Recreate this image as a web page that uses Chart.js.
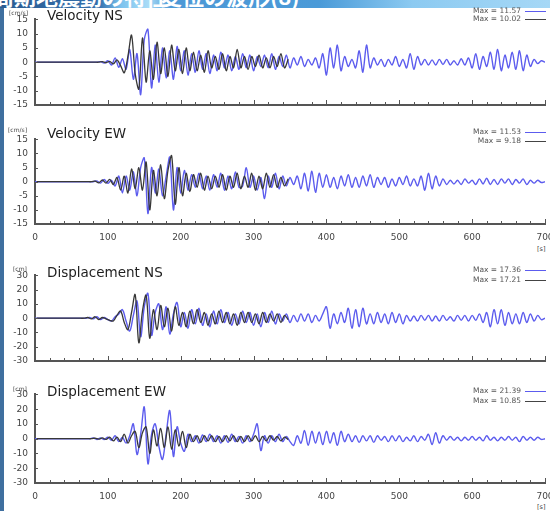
<!DOCTYPE html>
<html>
<head>
<meta charset="utf-8">
<script src="https://cdn.jsdelivr.net/npm/chart.js@4"></script>
<style>
  html, body { margin:0; padding:0; background:#fff; }
  body { width:550px; height:511px; position:relative; overflow:hidden; font-family:"DejaVu Sans", sans-serif; }
  .hdr { position:absolute; left:0; top:0; width:550px; height:8px; overflow:hidden;
         background:linear-gradient(to right, #2b5c92 0%, #3470ad 18%, #7cc3ee 22%, #a9dcf7 27%, #4d98d6 31%, #4a9ad8 58%, #8ccaf1 75%, #a6d8f6 100%); }
  .hdr span { position:absolute; top:-21px; white-space:nowrap; color:#fff; font:bold 22px "Noto Sans CJK JP", sans-serif; }
  .lstrip { position:absolute; left:0; top:8px; width:4px; height:503px; background:#3f6f9f; }
  canvas { position:absolute; left:0; }
  .title { position:absolute; left:47px; font:13.5px "DejaVu Sans", sans-serif; color:#1e1e1e; white-space:nowrap; }
  .unit { position:absolute; font:6px "DejaVu Sans", sans-serif; color:#444; white-space:nowrap; }
  .leg { position:absolute; right:29px; font:7.5px "DejaVu Sans", sans-serif; color:#555; white-space:nowrap; text-align:right; }
  .legline { position:absolute; left:525px; width:21px; height:0; border-top:1px solid; }
</style>
</head>
<body>
<div class="hdr"><span style="left:-30px">長周期地震動の特性</span><span style="left:160px">変位の波形(8)</span></div>
<div class="lstrip"></div>

<canvas id="c1" width="570" height="118" style="top:7px;width:570px;height:118px"></canvas>
<canvas id="c2" width="570" height="117" style="top:127px;width:570px;height:117px"></canvas>
<canvas id="c3" width="570" height="118" style="top:263px;width:570px;height:118px"></canvas>
<canvas id="c4" width="570" height="121" style="top:382px;width:570px;height:121px"></canvas>

<div class="title" style="top:7px">Velocity NS</div>
<div class="title" style="top:125px">Velocity EW</div>
<div class="title" style="top:264px">Displacement NS</div>
<div class="title" style="top:383px">Displacement EW</div>

<div class="unit" style="left:9px;top:9px">[cm/s]</div>
<div class="unit" style="left:8px;top:126px">[cm/s]</div>
<div class="unit" style="left:13px;top:265px">[cm]</div>
<div class="unit" style="left:13px;top:385px">[cm]</div>
<div class="unit" style="left:537px;top:245px;font-size:6.5px">[s]</div>
<div class="unit" style="left:537px;top:503px;font-size:6.5px">[s]</div>

<div class="leg" style="top:6px">Max = 11.57</div><div class="legline" style="top:11px;border-color:#5c5cee"></div>
<div class="leg" style="top:14px">Max = 10.02</div><div class="legline" style="top:19px;border-color:#444"></div>
<div class="leg" style="top:127px">Max = 11.53</div><div class="legline" style="top:132px;border-color:#5c5cee"></div>
<div class="leg" style="top:136px">Max = 9.18</div><div class="legline" style="top:141px;border-color:#444"></div>
<div class="leg" style="top:265px">Max = 17.36</div><div class="legline" style="top:270px;border-color:#5c5cee"></div>
<div class="leg" style="top:275px">Max = 17.21</div><div class="legline" style="top:280px;border-color:#444"></div>
<div class="leg" style="top:386px">Max = 21.39</div><div class="legline" style="top:391px;border-color:#5c5cee"></div>
<div class="leg" style="top:396px">Max = 10.85</div><div class="legline" style="top:401px;border-color:#444"></div>

<script>
// ---- sampling (seconds) ----
const blueStart = 0, blueStep = 5;       // blue trace: 0..700 s
const blackStart = 2.5, blackStep = 5;   // black trace: 2.5..347.5 s
const xTickLabels = [0, 100, 200, 300, 400, 500, 600, 700];
const velTicks = [-15, -10, -5, 0, 5, 10, 15];
const dispTicks = [-30, -20, -10, 0, 10, 20, 30];

// ---- Velocity NS [cm/s] ----
const velNS_blue = [
 0,0,0,0,0,0,0,0,0,0, 0,0,0,0,0,0,0,0,0.2,-0.3,
 0.5,-1,1.5,-1.8,1.2,-2.5,4.5,-6,3,-11.4,
 8,11.5,-9,6,-7,5,-5.5,4,-6,5.5,
 -3,4,-4.5,3,-3.5,4,-2.5,3,-4,2.5,
 -3,3.5,-2,2.5,-3,2,-2.5,3,-2,2.5,
 -3,2,-1.5,2.5,-2,3,-2.5,2,-1.5,2.5,
 -2,1.5,-1,2,-1.5,1,-1,1.5,-2,3,
 -4.5,5,-2,6,-3,2,-1.5,1,-2,4,
 -3.5,6,-2,1.5,-1,1,-1.5,1,-1,2,
 -1.5,1,-2,3,-2.5,2,-1,1,-1,0.8,
 -1,1,-0.8,1,-1,0.5,-1,1.2,-1,1.5,
 -2,3,-2.5,2,-1.5,3.5,-2.5,4.5,-3,2.5,
 -2,3.5,-2.5,4,-3,2.5,-1.5,1,-0.5,0.5,0
];
const velNS_black = [
 0,0,0,0,0,0,0,0,0,0, 0,0,0,0,0,0,0,0,0.2,-0.2,
 0.3,-0.6,0.8,-1.2,-3.7,2,9.5,-4,-9.4,8.5,
 -7,4,-6,7,-4,5,-5,6,-3,4.5,
 -4,5,-3,3.5,-3,2.5,-3.5,4,-2,2,
 -2.5,3,-3,2,-2,4.5,-2,2,-2.5,2,
 -1.5,2.5,-2,1.5,-2,2,-1.5,3,-2,1
];

// ---- Velocity EW [cm/s] ----
const velEW_blue = [
 0,0,0,0,0,0,0,0,0,0, 0,0,0,0,0,0,0,0.3,-0.5,0.8,
 -0.6,0.5,-1.5,2,-4,2,-3,3.5,-5,5,
 8.4,-11.3,5,-4,4.5,-5,2,8.7,-10,5,
 -4,4,-3,2.5,-2,3,-2.5,2,-3,2.5,
 -2,3,-3,2,-2.5,3.5,-2,-1.5,5,-2,
 2,-3,1.5,-6,2,-2,3,-2.5,2,-1.5,
 1.5,-1,2,-2.5,3,-3.3,3.7,-3.8,3,-2,
 2.5,-2,1.5,-2.5,2,-1.5,2.5,-2,1.5,-2,
 2,-1.5,2.5,-2,1.5,-1,1.5,-2,1,-1.5,
 1.5,-1,2,-1.5,1,-1.5,2,-3,3,-2.5,
 2,-1.5,1,-1,0.5,-0.8,0.5,-1,1,-0.5,
 0.5,-1,1,-0.8,1.2,-1,0.8,-1,1,-0.5,
 1,-1,0.8,-0.5,1,-1,0.5,-0.5,0.5,-0.3,0
];
const velEW_black = [
 0,0,0,0,0,0,0,0,0,0, 0,0,0,0,0,0,0.2,-0.4,0.6,-0.5,
 0.8,-1,1.5,-3,2,-4,4.5,-2.5,5,-3,
 7,-10,4,-5,6,-6,4,9.2,-8,5,
 -5,3,-3.5,2.5,-2,3,-3,2,-2.5,2,
 -2,2.5,-3,2,-2,3,-2.5,2,-2,3,
 -3,2,-2.5,3,-2,2.5,-2,1.5,-1.5,1
];

// ---- Displacement NS [cm] ----
const dispNS_blue = [
 0,0,0,0,0,0,0,0,0,0, 0,0,0,0,0,0.5,-0.5,1,-1,0.5,
 -1,-2,1,3,6,-2,-9,2,12,-13,
 8,17.3,-12,4,10,-8,8,-11,3,11,
 -6,4,-7,6,-4,7,-5,3,-6,5,
 -4,6,-3,4,-5,3,-4,5,-3,4,
 -5,3,-6,4,-3,5,-4,3,-2,3,
 -3,2,-2.5,3,-2,3,-3,2,-2,3,
 8,-7,3,-4,4,-3,7,-7,6,-6,
 7,-4,3,-4,4,-3,3,-4,4,-3,
 3,-4,2,-2,1.5,-2,2,-1.5,2,-2,
 1.5,-2,2,-1.5,1,-2,2,-1.5,2,-2,
 2,-1.5,3,-3,4,-6,6,-4,6,-5,
 4,-4,3,-4,4,-3,3,-2,2,-1,0
];
const dispNS_black = [
 0,0,0,0,0,0,0,0,0,0, 0,0,0,0,0.5,-0.5,1,-1,0.5,-0.5,
 -1.5,-2,2,5,-3,-8,4,16.5,-17.2,5,
 16,-14,6,-8,9,-6,7,-9,8,-5,
 4,-6,5,-4,6,-3,4,-5,3,-4,
 5,-3,4,-4,3,-5,4,-3,4,-3,
 3,-4,4,-3,3,-2,3,-3,2,-1
];

// ---- Displacement EW [cm] ----
const dispEW_blue = [
 0,0,0,0,0,0,0,0,0,0, 0,0,0,0,0,0,0.5,-0.5,0.5,-0.5,
 1,-1,2,-2,1,-3,2,10,-10.7,3,
 21.4,-17,3,10,-5,-14,3,19,-12,8,
 -3,-8.5,3,-2,2,-3,2.5,-2,3,-2,
 2,-3,2,-2.5,3,-2,1.5,-3,2,-2,
 3,10,-8,2,-3,2,-2,3,-2,1.5,
 -2,-4.5,2,-3,5.5,-4.5,5,-3,4.5,-4,
 5,-3,4,-4.5,5,-2,3,-2,2,-2.5,
 2,-1.5,2,-2.5,2,-1,1.5,-2,2,-1.5,
 2,-2,1,-1.5,2,-2,1.5,-1,3,-4,
 4,-3,2,-1,1.5,-1,1,-1.5,1,-1,
 1.5,-1,1,-1.5,2,-1,1,-1.5,1,-1,
 1.5,-1,1,-2,1.5,-1,1,-1,1,-0.5,0
];
const dispEW_black = [
 0,0,0,0,0,0,0,0,0,0, 0,0,0,0,0,0,0.3,-0.3,0.5,-0.5,
 1,-1.5,1,-2,3,-3,2,5,-6,4,
 8,-10,6,-5,7,-6,8,-7,6,-5,
 5,-6,3,-2,2,-2.5,2,-1.5,2,-2,
 1.5,-2,2,-1.5,2,-2,1.5,-2,2,-1.5,
 2,-2,1.5,-1.5,2,-1,1.5,-1.5,1,-0.5
];

const BLUE = '#5c5cee', BLACK = '#383838', AXIS = '#555';

function pts(vals, start, step) { return vals.map((v, i) => ({ x: start + i * step, y: v })); }

const innerTicks = {
  id: 'innerTicks',
  afterDraw(chart) {
    const { ctx, chartArea: a, scales: { x, y } } = chart;
    ctx.save();
    ctx.strokeStyle = AXIS;
    ctx.lineWidth = 1;
    for (let v = 0; v <= 700; v += 20) {
      const px = Math.round(x.getPixelForValue(v)) + 0.5;
      const len = (v % 100 === 0) ? 5 : 3;
      ctx.beginPath(); ctx.moveTo(px, a.bottom); ctx.lineTo(px, a.bottom - len); ctx.stroke();
    }
    y.ticks.forEach(t => {
      const py = Math.round(y.getPixelForValue(t.value)) + 0.5;
      ctx.beginPath(); ctx.moveTo(a.left, py); ctx.lineTo(a.left + 3, py); ctx.stroke();
    });
    ctx.restore();
  }
};

function makeChart(id, blue, black, yTicks, showX, tension, plotH) {
  const lim = yTicks[yTicks.length - 1];
  const canvas = document.getElementById(id);
  new Chart(canvas, {
    type: 'line',
    data: {
      datasets: [
        { data: pts(blue, blueStart, blueStep), borderColor: BLUE, borderWidth: 1.4, pointRadius: 0, tension: tension, order: 2 },
        { data: pts(black, blackStart, blackStep), borderColor: BLACK, borderWidth: 1.3, pointRadius: 0, tension: tension, order: 1 }
      ]
    },
    options: {
      responsive: false, animation: false, events: [],
      layout: { padding: { top: 12, left: 0, right: 25, bottom: 0 } },
      plugins: { legend: { display: false }, tooltip: { enabled: false } },
      scales: {
        x: {
          type: 'linear', min: 0, max: 700,
          afterBuildTicks: s => { s.ticks = xTickLabels.map(v => ({ value: v })); },
          grid: { display: false, drawTicks: false },
          border: { display: true, color: AXIS, width: 2 },
          ticks: { display: showX, padding: 8, color: '#444', font: { family: 'DejaVu Sans', size: 9 }, maxRotation: 0, autoSkip: false },
          afterFit: s => { s.height = canvas.height - 12 - plotH; }
        },
        y: {
          min: -lim, max: lim,
          afterBuildTicks: s => { s.ticks = yTicks.map(v => ({ value: v })); },
          grid: { display: false, drawTicks: false },
          border: { display: true, color: AXIS, width: 2 },
          ticks: { padding: 7, color: '#444', font: { family: 'DejaVu Sans', size: 9 }, autoSkip: false },
          afterFit: s => { s.width = 35; }
        }
      }
    },
    plugins: [innerTicks]
  });
}

makeChart('c1', velNS_blue, velNS_black, velTicks, false, 0.3, 86);
makeChart('c2', velEW_blue, velEW_black, velTicks, true, 0.3, 85);
makeChart('c3', dispNS_blue, dispNS_black, dispTicks, false, 0.35, 86);
makeChart('c4', dispEW_blue, dispEW_black, dispTicks, true, 0.35, 89);
</script>
</body>
</html>
